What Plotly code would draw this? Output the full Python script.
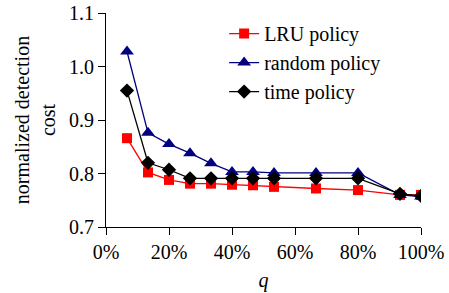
import plotly.graph_objects as go

q = [1/15, 2/15, 3/15, 4/15, 5/15, 6/15, 7/15, 8/15, 10/15, 12/15, 14/15, 1.0]
lru = [0.866, 0.802, 0.788, 0.781, 0.781, 0.779, 0.778, 0.775, 0.772, 0.769, 0.760, 0.760]
rnd = [1.028, 0.876, 0.855, 0.838, 0.819, 0.803, 0.803, 0.801, 0.801, 0.801, 0.760, 0.757]
tim = [0.955, 0.820, 0.807, 0.791, 0.791, 0.791, 0.791, 0.791, 0.791, 0.791, 0.762, 0.758]
x_ticks = [0, 0.2, 0.4, 0.6, 0.8, 1.0]
x_tick_labels = ["0%", "20%", "40%", "60%", "80%", "100%"]
y_ticks = [0.7, 0.8, 0.9, 1.0, 1.1]

FONT = "Liberation Serif"

fig = go.Figure()
fig.add_trace(go.Scatter(x=q, y=lru, name="LRU policy", mode="lines+markers",
                         line=dict(color="#FF0000", width=1.3),
                         marker=dict(symbol="square", size=10, color="#FF0000")))
fig.add_trace(go.Scatter(x=q, y=rnd, name="random policy", mode="lines+markers",
                         line=dict(color="#000080", width=1.3),
                         marker=dict(symbol="triangle-up", size=12, color="#000080")))
fig.add_trace(go.Scatter(x=q, y=tim, name="time policy", mode="lines+markers",
                         line=dict(color="#000000", width=1.3),
                         marker=dict(symbol="diamond", size=11, color="#000000")))

fig.update_layout(
    width=449, height=293,
    margin=dict(l=106, r=28, t=13, b=66),
    paper_bgcolor="white", plot_bgcolor="white",
    font=dict(family=FONT, size=20, color="black"),
    showlegend=True,
    legend=dict(x=0.375, y=0.995, xanchor="left", yanchor="top",
                bgcolor="rgba(0,0,0,0)", font=dict(family=FONT, size=20), tracegroupgap=0),
    xaxis=dict(range=[0, 1.0], tickvals=x_ticks, ticktext=x_tick_labels, automargin=False,
               showgrid=False, zeroline=False, showline=True, linecolor="black", linewidth=1,
               ticks="outside", ticklen=7, tickcolor="black", ticklabeloverflow="allow",
               tickfont=dict(family=FONT, size=20),
               title=dict(text="<i>q</i>", standoff=10, font=dict(family=FONT, size=20))),
    yaxis=dict(range=[0.7, 1.1], tickvals=y_ticks, tickformat=".1f", automargin=False,
               showgrid=False, zeroline=False, showline=True, linecolor="black", linewidth=1,
               ticks="outside", ticklen=7, tickcolor="black", ticklabeloverflow="allow",
               tickfont=dict(family=FONT, size=20),
               title=dict(text="normalized detection<br>cost", standoff=8,
                          font=dict(family=FONT, size=20))),
)

fig.write_html("out.html", config={"displayModeBar": False},
               post_script="document.body.style.margin='0';")
